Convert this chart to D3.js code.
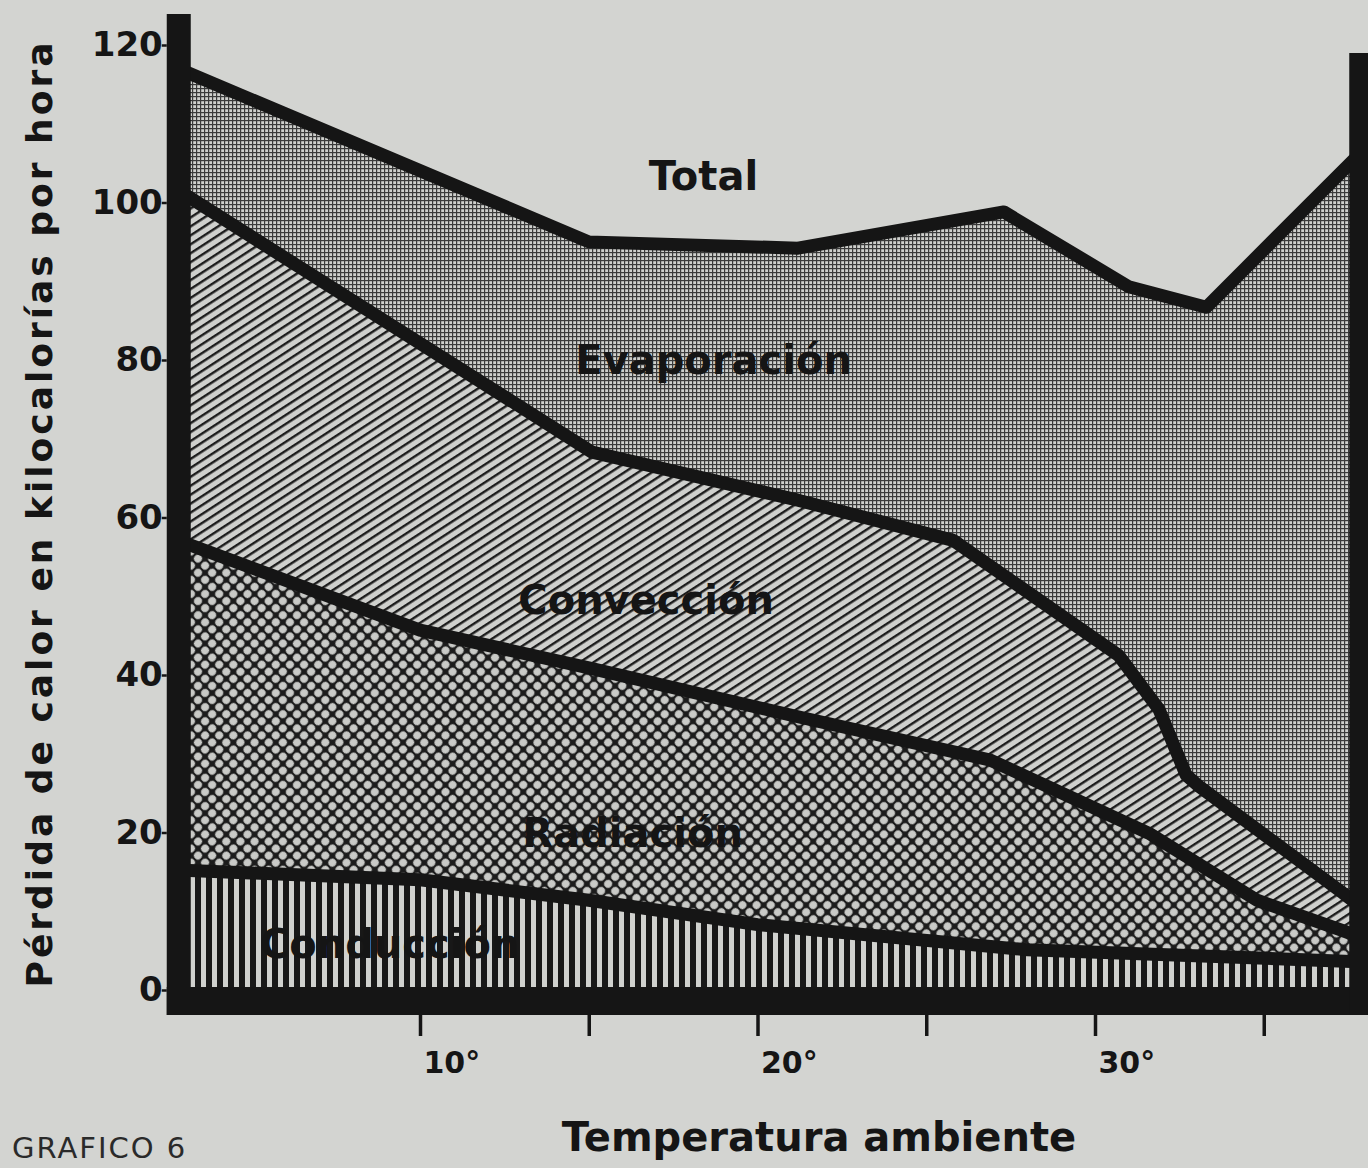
<!DOCTYPE html>
<html>
<head>
<meta charset="utf-8">
<script src="https://cdn.jsdelivr.net/npm/d3@7"></script>
<style>
  body { margin: 0; background: #d3d4d1; }
  svg { display: block; }
</style>
</head>
<body>
<div id="chart"></div>
<script>
// values: temperature (°C) and cumulative heat loss (kcal/h)
const totalTemps = [3, 15, 21.2, 27.3, 31, 33.3, 37.8];
const totalVals  = [116.7, 95, 94.2, 98.8, 89.3, 86.7, 106];

const convTemps = [3, 15.1, 21.2, 25.8, 30.7, 31.9, 32.7, 33.1, 37.35, 37.8];
const convVals  = [101.1, 68.3, 62.2, 57.1, 42.5, 35.6, 27.3, 25.8, 12.3, 10.8];

const radTemps = [3, 10, 15, 21.2, 26.9, 31.6, 34.8, 37.3, 37.8];
const radVals  = [56.8, 45.7, 40.9, 34.7, 29.2, 19.9, 11.4, 7.6, 6.8];

const condTemps = [3, 10, 15, 20, 28, 37.8];
const condVals  = [15.2, 14, 11.4, 8.3, 5.1, 3.6];

const yTicks = [0, 20, 40, 60, 80, 100, 120];
const xTicks = [10, 15, 20, 25, 30, 35];
const xLabelled = [10, 20, 30];

const layerNames = ["Total", "Evaporación", "Convección", "Radiación", "Conducción"];

const width = 1368, height = 1168;
const ink = "#151515", paper = "#d3d4d1";

const x = d3.scaleLinear().domain([10, 30]).range([420, 1095]);
const y = d3.scaleLinear().domain([0, 120]).range([990, 45]);

const pts = (ts, vs) => ts.map((t, i) => [t, vs[i]]);
const total = pts(totalTemps, totalVals);
const conv = pts(convTemps, convVals);
const rad = pts(radTemps, radVals);
const cond = pts(condTemps, condVals);
const base = [[3, 0], [37.8, 0]];

const svg = d3.select("#chart").append("svg")
  .attr("width", width)
  .attr("height", height)
  .style("font-family", "'DejaVu Sans', sans-serif");

svg.append("rect").attr("width", width).attr("height", height).attr("fill", paper);

const defs = svg.append("defs");

// fine screen for evaporation
const pEvap = defs.append("pattern").attr("id", "evap")
  .attr("patternUnits", "userSpaceOnUse").attr("width", 4).attr("height", 4);
pEvap.append("rect").attr("width", 4).attr("height", 4).attr("fill", "#cfd0cd");
pEvap.append("rect").attr("width", 4).attr("height", 1.2).attr("fill", "#3a3a3a");
pEvap.append("rect").attr("width", 1.2).attr("height", 4).attr("fill", "#3a3a3a");

// diagonal hatching for convection
const pConv = defs.append("pattern").attr("id", "conv")
  .attr("patternUnits", "userSpaceOnUse").attr("width", 7.5).attr("height", 7.5)
  .attr("patternTransform", "rotate(-33)");
pConv.append("rect").attr("width", 7.5).attr("height", 7.5).attr("fill", "#cfd0cd");
pConv.append("rect").attr("width", 7.5).attr("height", 2.4).attr("fill", "#1c1c1c");

// coarse dot screen for radiation
const pRad = defs.append("pattern").attr("id", "rad")
  .attr("patternUnits", "userSpaceOnUse").attr("width", 10).attr("height", 10)
  .attr("patternTransform", "rotate(45)");
pRad.append("rect").attr("width", 10).attr("height", 10).attr("fill", "#1c1c1c");
pRad.append("circle").attr("cx", 5).attr("cy", 5).attr("r", 3.9).attr("fill", "#c9cac7");

// vertical stripes for conduction
const pCond = defs.append("pattern").attr("id", "cond")
  .attr("patternUnits", "userSpaceOnUse").attr("width", 11).attr("height", 11);
pCond.append("rect").attr("width", 11).attr("height", 11).attr("fill", "#181818");
pCond.append("rect").attr("x", 3).attr("width", 5).attr("height", 11).attr("fill", "#d0d1ce");

const line = d3.line().x(d => x(d[0])).y(d => y(d[1]));
const band = (upper, lower) => line(upper.concat(lower.slice().reverse())) + "Z";

const layers = [
  { upper: total, lower: conv, fill: "url(#evap)" },
  { upper: conv, lower: rad, fill: "url(#conv)" },
  { upper: rad, lower: cond, fill: "url(#rad)" },
  { upper: cond, lower: base, fill: "url(#cond)" }
];

svg.append("g").selectAll("path")
  .data(layers)
  .join("path")
  .attr("d", d => band(d.upper, d.lower))
  .attr("fill", d => d.fill);

// heavy boundary lines
svg.append("g")
  .attr("fill", "none")
  .attr("stroke", ink)
  .attr("stroke-width", 13)
  .attr("stroke-linejoin", "round")
  .selectAll("path")
  .data([total, conv, rad, cond])
  .join("path")
  .attr("d", line);

// frame bars
const left = x(3) - 17, right = x(37.8) - 9;
svg.append("rect").attr("x", left).attr("y", 14).attr("width", 24).attr("height", 1001).attr("fill", ink);
svg.append("rect").attr("x", left).attr("y", y(0) - 3).attr("width", width - left).attr("height", 28).attr("fill", ink);
svg.append("rect").attr("x", right).attr("y", 53).attr("width", width - right).attr("height", 1015 - 53).attr("fill", ink);

// y axis
const yAxis = svg.append("g")
  .attr("transform", `translate(${left},0)`)
  .call(d3.axisLeft(y).tickValues(yTicks).tickSize(5).tickPadding(-1));
yAxis.select(".domain").remove();
yAxis.selectAll("line").attr("stroke", ink).attr("stroke-width", 2.5);
yAxis.selectAll("text")
  .attr("fill", ink)
  .attr("font-size", 34)
  .attr("font-weight", "bold")
  .attr("font-family", "'DejaVu Sans', sans-serif");

// x axis
const xAxis = svg.append("g")
  .attr("transform", "translate(0,1015)")
  .call(d3.axisBottom(x).tickValues(xTicks).tickSize(21)
    .tickFormat(d => xLabelled.includes(d) ? d + "°" : ""));
xAxis.select(".domain").remove();
xAxis.selectAll("line").attr("stroke", ink).attr("stroke-width", 3.5);
xAxis.selectAll("text")
  .attr("fill", ink)
  .attr("font-size", 30)
  .attr("font-weight", "bold")
  .attr("font-family", "'DejaVu Sans', sans-serif")
  .attr("text-anchor", "start")
  .attr("x", 3)
  .attr("y", 47)
  .attr("dy", "0.35em");

// layer labels
const labelAt = [[18.4, 101.6], [18.7, 78.2], [16.7, 47.8], [16.3, 18.1], [9.1, 4.1]];
svg.append("g")
  .attr("font-size", 40)
  .attr("font-weight", "bold")
  .attr("text-anchor", "middle")
  .attr("fill", ink)
  .selectAll("text")
  .data(layerNames)
  .join("text")
  .attr("x", (d, i) => x(labelAt[i][0]))
  .attr("y", (d, i) => y(labelAt[i][1]))
  .text(d => d);

// axis titles
svg.append("text")
  .attr("transform", "translate(52,515) rotate(-90)")
  .attr("text-anchor", "middle")
  .attr("font-size", 36)
  .attr("font-weight", "bold")
  .attr("fill", ink)
  .attr("textLength", 945)
  .attr("lengthAdjust", "spacing")
  .text("Pérdida de calor en kilocalorías por hora");

svg.append("text")
  .attr("x", 819)
  .attr("y", 1151)
  .attr("text-anchor", "middle")
  .attr("font-size", 40)
  .attr("font-weight", "bold")
  .attr("fill", ink)
  .text("Temperatura ambiente");

svg.append("text")
  .attr("x", 12)
  .attr("y", 1158)
  .attr("font-size", 29)
  .attr("letter-spacing", 2)
  .attr("fill", "#2a2a2a")
  .text("GRAFICO 6");
</script>
</body>
</html>
